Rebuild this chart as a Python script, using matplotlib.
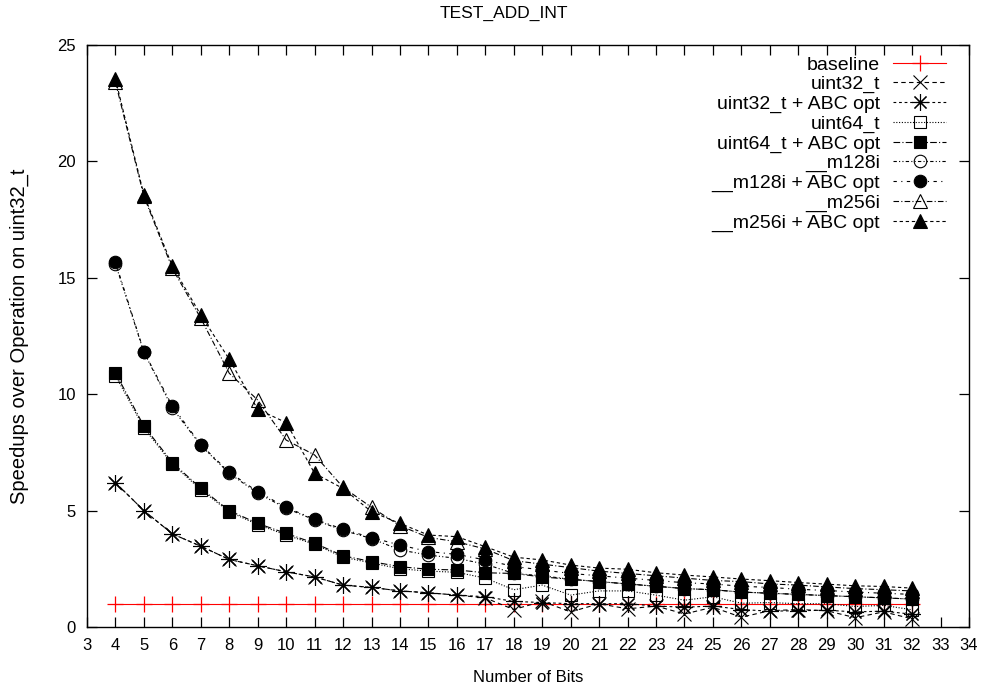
import matplotlib
matplotlib.use("Agg")
import matplotlib.pyplot as plt

plt.rcParams['font.family'] = ['Liberation Sans', 'DejaVu Sans']

bits = list(range(4, 33))

baseline = [1.0] * len(bits)

uint32 = [6.2, 5.0, 4.0, 3.47, 2.9, 2.63, 2.37, 2.15, 1.8, 1.7, 1.55, 1.47, 1.37, 1.25,
          0.75, 1.1, 0.65, 1.0, 0.78, 0.9, 0.56, 0.85, 0.42, 0.7, 0.75, 0.7, 0.4, 0.65, 0.35]
uint32_abc = [6.2, 5.0, 4.0, 3.47, 2.9, 2.63, 2.37, 2.15, 1.8, 1.7, 1.55, 1.47, 1.37, 1.3,
              1.1, 1.05, 1.0, 1.0, 1.0, 0.9, 0.85, 0.9, 0.75, 0.68, 0.7, 0.72, 0.65, 0.68, 0.55]
uint64 = [10.8, 8.55, 7.0, 5.9, 4.95, 4.4, 3.95, 3.55, 3.0, 2.75, 2.5, 2.4, 2.35, 2.1,
          1.6, 1.8, 1.37, 1.55, 1.55, 1.37, 1.15, 1.3, 1.02, 1.05, 1.0, 1.0, 0.88, 0.93, 0.74]
uint64_abc = [10.92, 8.63, 7.06, 5.96, 5.0, 4.45, 4.02, 3.6, 3.06, 2.81, 2.59, 2.48, 2.45, 2.33,
              2.3, 2.15, 2.05, 1.95, 1.85, 1.75, 1.65, 1.6, 1.5, 1.45, 1.4, 1.35, 1.3, 1.25, 1.2]
m128i = [15.6, 11.8, 9.4, 7.8, 6.6, 5.75, 5.1, 4.6, 4.15, 3.8, 3.31, 3.09, 2.95, 2.7,
         2.3, 2.2, 2.05, 1.95, 1.85, 1.75, 1.65, 1.6, 1.5, 1.45, 1.4, 1.35, 1.3, 1.25, 1.2]
m128i_abc = [15.67, 11.83, 9.49, 7.83, 6.65, 5.81, 5.14, 4.63, 4.2, 3.84, 3.52, 3.24, 3.12, 2.88,
             2.6, 2.45, 2.3, 2.2, 2.1, 2.0, 1.9, 1.85, 1.75, 1.7, 1.62, 1.57, 1.5, 1.45, 1.4]
m256i = [23.4, 18.5, 15.4, 13.26, 10.9, 9.75, 8.03, 7.39, 6.0, 5.14, 4.35, 3.85, 3.66, 3.35,
         2.85, 2.7, 2.55, 2.4, 2.3, 2.2, 2.1, 2.0, 1.95, 1.85, 1.8, 1.72, 1.65, 1.6, 1.55]
m256i_abc = [23.53, 18.56, 15.5, 13.4, 11.5, 9.35, 8.78, 6.6, 5.95, 4.95, 4.45, 3.95, 3.88, 3.45,
             3.0, 2.88, 2.66, 2.53, 2.48, 2.33, 2.23, 2.15, 2.06, 1.99, 1.91, 1.84, 1.77, 1.74, 1.67]

labels = ["baseline", "uint32_t", "uint32_t + ABC opt", "uint64_t", "uint64_t + ABC opt",
          "__m128i", "__m128i + ABC opt", "__m256i", "__m256i + ABC opt"]

FS = 12

fig = plt.figure(figsize=(9.87, 6.90), dpi=100)
ax = fig.add_axes([87 / 987, 1 - 627 / 690, (969 - 87) / 987, (627 - 45) / 690])

lw = 0.8
series = [
    (baseline, dict(color="#ff0000", ls="-", marker="+", ms=12, mew=0.9, mfc="none")),
    (uint32, dict(color="black", ls=(0, (4, 3)), marker="x", ms=10, mew=0.8)),
    (uint32_abc, dict(color="black", ls=(0, (2.5, 2.5)), marker=(8, 2, 0), ms=12, mew=0.8)),
    (uint64, dict(color="black", ls=(0, (1, 1.5)), marker="s", ms=9, mew=0.8, mfc="none")),
    (uint64_abc, dict(color="black", ls=(0, (6, 2, 1, 2)), marker="s", ms=9, mew=0.8, mfc="black")),
    (m128i, dict(color="black", ls=(0, (3, 2, 1, 2, 1, 2)), marker="o", ms=9, mew=0.8, mfc="none")),
    (m128i_abc, dict(color="black", ls=(0, (3, 4, 1, 4)), marker="o", ms=9, mew=0.8, mfc="black")),
    (m256i, dict(color="black", ls=(0, (5, 2, 1, 2)), marker="^", ms=10, mew=0.8, mfc="none")),
    (m256i_abc, dict(color="black", ls=(0, (3, 2.5)), marker="^", ms=10, mew=0.8, mfc="black")),
]

handles = []
for vals, kw in series:
    line, = ax.plot(bits, vals, lw=lw, **kw)
    handles.append(line)

ax.set_xlim(3, 34)
ax.set_ylim(0, 25)
ax.set_xticks(range(3, 35))
ax.set_yticks(range(0, 26, 5))
ax.tick_params(direction="in", length=7, width=0.9, top=True, right=True,
               labelsize=FS, pad=8)
for s in ax.spines.values():
    s.set_linewidth(1.0)

fig.text(504 / 987, 1 - 13 / 690, "TEST_ADD_INT", fontsize=12.5, ha="center", va="center")
ax.set_xlabel("Number of Bits", fontsize=FS, labelpad=12)
ax.set_ylabel("Speedups over Operation on uint32_t", fontsize=14.5, labelpad=20)

# legend labels beginning with "_" are skipped by matplotlib, so set them afterwards
placeholders = [f"series{i}" for i in range(len(labels))]
leg = ax.legend(handles, placeholders, loc="upper right",
                bbox_to_anchor=(946 / 987, 1 - 56 / 690),
                bbox_transform=fig.transFigure, frameon=False, markerfirst=False,
                fontsize=14, handlelength=2.7, handletextpad=0.7,
                labelspacing=0.1, borderaxespad=0, borderpad=0)
for txt, lab in zip(leg.get_texts(), labels):
    txt.set_text(lab)

fig.savefig("out.png", dpi=100)
